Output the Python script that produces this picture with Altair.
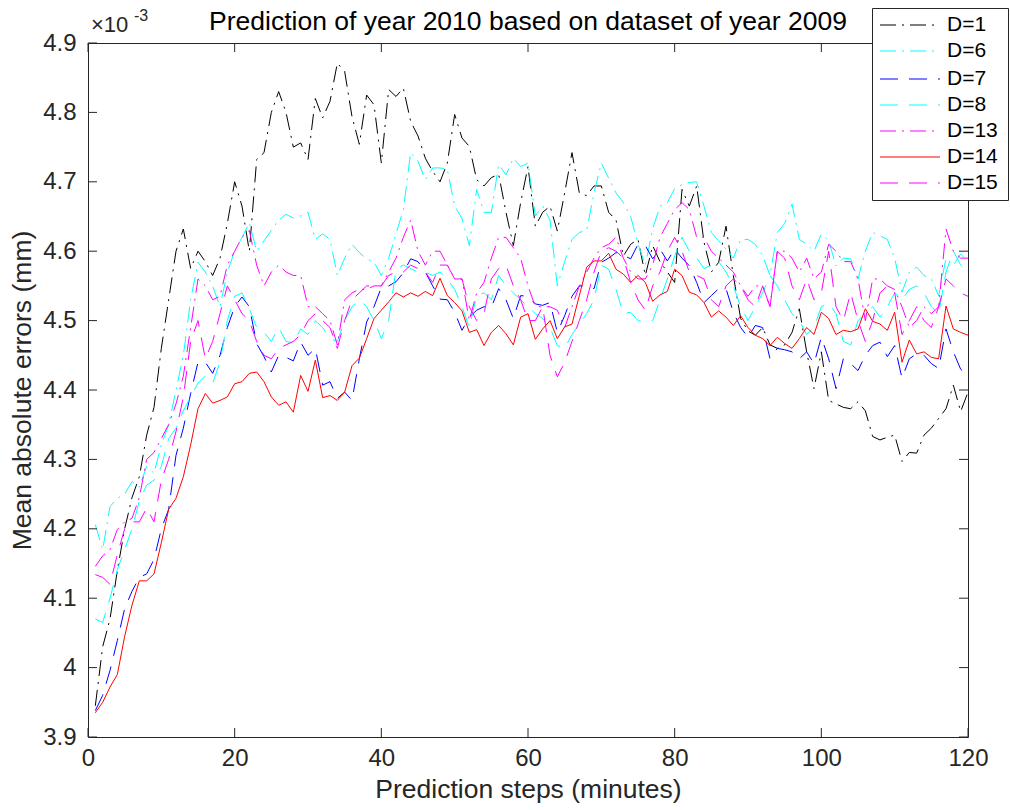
import altair as alt
import pandas as pd

steps = list(range(1, 121))

d1 = [3.945, 4.03, 4.07, 4.14, 4.2, 4.245, 4.275, 4.335, 4.375, 4.46,
      4.53, 4.6, 4.632, 4.575, 4.6, 4.585, 4.565, 4.59, 4.64, 4.70,
      4.665, 4.6, 4.732, 4.742, 4.8, 4.83, 4.8, 4.75, 4.756, 4.732,
      4.82, 4.792, 4.816, 4.871, 4.859, 4.794, 4.754, 4.825, 4.811, 4.727,
      4.833, 4.823, 4.835, 4.787, 4.766, 4.734, 4.715, 4.70, 4.727, 4.797,
      4.763, 4.751, 4.703, 4.694, 4.706, 4.711, 4.656, 4.608, 4.67, 4.722,
      4.636, 4.656, 4.665, 4.629, 4.684, 4.742, 4.684, 4.68, 4.694, 4.694,
      4.656, 4.645, 4.593, 4.61, 4.617, 4.565, 4.608, 4.585, 4.57, 4.555,
      4.689, 4.665, 4.694, 4.613, 4.57, 4.584, 4.636, 4.565, 4.503, 4.485,
      4.479, 4.49, 4.465, 4.46, 4.465, 4.483, 4.517, 4.455, 4.402, 4.455,
      4.385, 4.38, 4.375, 4.373, 4.383, 4.37, 4.333, 4.328, 4.332, 4.335,
      4.297, 4.31, 4.309, 4.335, 4.345, 4.359, 4.373, 4.407, 4.369, 4.397]

d6 = [4.206, 4.17, 4.232, 4.244, 4.25, 4.268, 4.26, 4.29, 4.28, 4.321,
      4.35, 4.40, 4.45, 4.53, 4.584, 4.57, 4.55, 4.52, 4.57, 4.60,
      4.62, 4.641, 4.60, 4.615, 4.63, 4.645, 4.653, 4.648, 4.651, 4.656,
      4.617, 4.625, 4.617, 4.565, 4.59, 4.61, 4.598, 4.589, 4.584, 4.565,
      4.59, 4.625, 4.66, 4.742, 4.73, 4.703, 4.72, 4.72, 4.718, 4.665,
      4.647, 4.608, 4.689, 4.656, 4.656, 4.725, 4.71, 4.734, 4.722, 4.727,
      4.651, 4.665, 4.645, 4.55, 4.585, 4.617, 4.627, 4.63, 4.684, 4.727,
      4.705, 4.684, 4.67, 4.65, 4.61, 4.58, 4.632, 4.665, 4.67, 4.69,
      4.696, 4.699, 4.70, 4.665, 4.627, 4.615, 4.603, 4.59, 4.617, 4.617,
      4.61, 4.594, 4.565, 4.627, 4.64, 4.668, 4.617, 4.61, 4.6, 4.625,
      4.615, 4.579, 4.59, 4.589, 4.56, 4.6, 4.627, 4.622, 4.617, 4.59,
      4.541, 4.57, 4.577, 4.565, 4.56, 4.536, 4.59, 4.58, 4.596, 4.585]

d7 = [3.938, 3.96, 3.996, 4.039, 4.085, 4.11, 4.13, 4.135, 4.156, 4.2,
      4.228, 4.306, 4.345, 4.395, 4.44, 4.44, 4.424, 4.45, 4.49, 4.52,
      4.534, 4.52, 4.467, 4.448, 4.426, 4.45, 4.447, 4.442, 4.469, 4.45,
      4.46, 4.407, 4.412, 4.388, 4.397, 4.385, 4.445, 4.498, 4.52, 4.548,
      4.55, 4.556, 4.569, 4.589, 4.585, 4.57, 4.55, 4.531, 4.53, 4.512,
      4.486, 4.505, 4.515, 4.52, 4.519, 4.546, 4.53, 4.503, 4.536, 4.535,
      4.524, 4.522, 4.526, 4.483, 4.507, 4.535, 4.55, 4.55, 4.546, 4.584,
      4.59, 4.598, 4.594, 4.589, 4.61, 4.608, 4.589, 4.603, 4.586, 4.603,
      4.59, 4.579, 4.555, 4.526, 4.536, 4.546, 4.546, 4.512, 4.49, 4.476,
      4.493, 4.49, 4.445, 4.46, 4.458, 4.455, 4.445, 4.455, 4.438, 4.476,
      4.445, 4.402, 4.445, 4.438, 4.428, 4.45, 4.464, 4.469, 4.448, 4.464,
      4.417, 4.445, 4.452, 4.45, 4.438, 4.431, 4.488, 4.455, 4.43, 4.421]

d8 = [4.07, 4.065, 4.1, 4.141, 4.17, 4.2, 4.24, 4.263, 4.27, 4.29,
      4.33, 4.345, 4.37, 4.39, 4.41, 4.42, 4.41, 4.44, 4.50, 4.535,
      4.54, 4.517, 4.49, 4.483, 4.47, 4.49, 4.47, 4.468, 4.488, 4.48,
      4.5, 4.49, 4.474, 4.47, 4.5, 4.52, 4.53, 4.52, 4.5, 4.474,
      4.5, 4.574, 4.58, 4.575, 4.57, 4.57, 4.565, 4.57, 4.56, 4.545,
      4.52, 4.49, 4.536, 4.54, 4.53, 4.565, 4.55, 4.54, 4.53, 4.52,
      4.51, 4.503, 4.49, 4.464, 4.46, 4.48, 4.495, 4.51, 4.53, 4.58,
      4.574, 4.545, 4.51, 4.512, 4.5, 4.498, 4.5, 4.53, 4.56, 4.593,
      4.62, 4.6, 4.59, 4.575, 4.58, 4.585, 4.57, 4.55, 4.52, 4.5,
      4.52, 4.54, 4.565, 4.55, 4.53, 4.51, 4.5, 4.48, 4.49, 4.52,
      4.525, 4.51, 4.47, 4.465, 4.5, 4.51, 4.52, 4.505, 4.52, 4.54,
      4.53, 4.545, 4.55, 4.54, 4.52, 4.51, 4.57, 4.6, 4.58, 4.57]

d13 = [4.146, 4.161, 4.17, 4.199, 4.21, 4.215, 4.245, 4.30, 4.31, 4.33,
       4.35, 4.38, 4.42, 4.49, 4.56, 4.55, 4.53, 4.535, 4.58, 4.60,
       4.62, 4.63, 4.58, 4.55, 4.57, 4.58, 4.57, 4.565, 4.565, 4.52,
       4.52, 4.51, 4.50, 4.465, 4.53, 4.54, 4.545, 4.545, 4.55, 4.55,
       4.57, 4.59, 4.62, 4.645, 4.60, 4.58, 4.6, 4.6, 4.58, 4.56,
       4.56, 4.5, 4.54, 4.555, 4.59, 4.62, 4.62, 4.605, 4.59, 4.55,
       4.52, 4.52, 4.52, 4.515, 4.49, 4.52, 4.55, 4.57, 4.59, 4.605,
       4.61, 4.62, 4.59, 4.57, 4.56, 4.56, 4.58, 4.62, 4.64, 4.66,
       4.67, 4.66, 4.62, 4.62, 4.6, 4.59, 4.58, 4.57, 4.55, 4.535,
       4.55, 4.55, 4.52, 4.6, 4.6, 4.59, 4.57, 4.59, 4.56, 4.57,
       4.61, 4.6, 4.585, 4.585, 4.56, 4.5, 4.56, 4.56, 4.55, 4.545,
       4.52, 4.49, 4.5, 4.52, 4.51, 4.52, 4.632, 4.6, 4.59, 4.59]

d14 = [3.935, 3.95, 3.972, 3.99, 4.045, 4.09, 4.125, 4.125, 4.135, 4.18,
       4.228, 4.244, 4.275, 4.321, 4.373, 4.395, 4.381, 4.385, 4.39, 4.409,
       4.412, 4.424, 4.426, 4.412, 4.39, 4.378, 4.383, 4.368, 4.421, 4.398,
       4.443, 4.389, 4.392, 4.385, 4.397, 4.435, 4.446, 4.474, 4.503, 4.515,
       4.527, 4.54, 4.534, 4.54, 4.535, 4.542, 4.536, 4.561, 4.536, 4.526,
       4.514, 4.483, 4.487, 4.464, 4.483, 4.493, 4.481, 4.465, 4.505, 4.51,
       4.473, 4.488, 4.5, 4.474, 4.491, 4.495, 4.536, 4.577, 4.586, 4.586,
       4.597, 4.574, 4.567, 4.555, 4.565, 4.555, 4.528, 4.537, 4.542, 4.574,
       4.565, 4.541, 4.537, 4.526, 4.505, 4.514, 4.505, 4.493, 4.507, 4.49,
       4.479, 4.474, 4.464, 4.476, 4.467, 4.46, 4.474, 4.49, 4.48, 4.512,
       4.503, 4.48, 4.486, 4.484, 4.488, 4.517, 4.499, 4.495, 4.486, 4.512,
       4.44, 4.472, 4.452, 4.455, 4.447, 4.445, 4.521, 4.488, 4.483, 4.479]

d15 = [4.134, 4.13, 4.12, 4.163, 4.2, 4.21, 4.21, 4.23, 4.21, 4.27,
       4.30, 4.34, 4.39, 4.47, 4.50, 4.445, 4.47, 4.51, 4.55, 4.53,
       4.51, 4.50, 4.47, 4.45, 4.445, 4.46, 4.465, 4.47, 4.48, 4.50,
       4.51, 4.50, 4.49, 4.46, 4.50, 4.53, 4.54, 4.55, 4.55, 4.55,
       4.565, 4.57, 4.57, 4.58, 4.575, 4.57, 4.555, 4.58, 4.58, 4.56,
       4.56, 4.52, 4.5, 4.51, 4.56, 4.575, 4.58, 4.55, 4.53, 4.5,
       4.5, 4.52, 4.45, 4.419, 4.44, 4.47, 4.5, 4.53, 4.57, 4.6,
       4.605, 4.6, 4.59, 4.555, 4.53, 4.515, 4.55, 4.57, 4.6, 4.62,
       4.6, 4.57, 4.565, 4.56, 4.53, 4.52, 4.55, 4.56, 4.55, 4.53,
       4.52, 4.55, 4.52, 4.6, 4.59, 4.55, 4.53, 4.56, 4.53, 4.54,
       4.6, 4.52, 4.5, 4.54, 4.5, 4.47, 4.5, 4.54, 4.55, 4.54,
       4.48, 4.5, 4.52, 4.5, 4.49, 4.52, 4.56, 4.55, 4.54, 4.535]

names = ["D=1", "D=6", "D=7", "D=8", "D=13", "D=14", "D=15"]
values = [d1, d6, d7, d8, d13, d14, d15]
colors = ["#000000", "#00FFFF", "#0000FF", "#00FFFF", "#FF00FF", "#FF0000", "#FF00FF"]
DASHDOT = [16, 6, 2, 6]
DASH = [18, 11]
dashes = [DASHDOT, DASHDOT, DASH, DASH, DASHDOT, None, DASH]

x_ticks = [0, 20, 40, 60, 80, 100, 120]
y_ticks = [3.9, 4.0, 4.1, 4.2, 4.3, 4.4, 4.5, 4.6, 4.7, 4.8, 4.9]

FONT = "Liberation Sans"
AX = "#262626"
W, H = 880, 694

xscale = alt.Scale(domain=[0, 120], nice=False, zero=False)
yscale = alt.Scale(domain=[3.9, 4.9], nice=False, zero=False)
xaxis = alt.Axis(values=x_ticks, title="Prediction steps (minutes)", grid=False,
                 domain=False, ticks=False, tickSize=0, labelFontSize=24,
                 labelPadding=9, labelColor=AX, labelFlush=False,
                 titleFontSize=26.5, titleFontWeight="normal", titleColor=AX,
                 titlePadding=6, labelFont=FONT, titleFont=FONT)
yaxis = alt.Axis(values=y_ticks, format=".1~f", title="Mean absolute errors (mm)",
                 grid=False, domain=False, ticks=False, tickSize=0,
                 labelFontSize=24, labelPadding=12, labelColor=AX, labelFlush=False,
                 titleFontSize=26.5, titleFontWeight="normal", titleColor=AX,
                 titlePadding=6, labelFont=FONT, titleFont=FONT)

X = alt.X("step:Q", scale=xscale, axis=xaxis)
Y = alt.Y("mae:Q", scale=yscale, axis=yaxis)


def line_kw(col, dsh, width=1):
    kw = dict(color=col, strokeWidth=width)
    if dsh is not None:
        kw["strokeDash"] = dsh
    return kw


layers = []
for name, vals, col, dsh in zip(names, values, colors, dashes):
    df = pd.DataFrame({"step": steps, "mae": vals, "series": name})
    layers.append(alt.Chart(df).mark_line(**line_kw(col, dsh)).encode(x=X, y=Y))

# inward ticks (MATLAB style) on all four sides
xt = pd.DataFrame({"step": x_ticks})
yt = pd.DataFrame({"mae": y_ticks})
layers.append(alt.Chart(xt).mark_rule(color=AX, strokeWidth=1).encode(
    x=X, y=alt.value(H), y2=alt.value(H - 9)))
layers.append(alt.Chart(xt).mark_rule(color=AX, strokeWidth=1).encode(
    x=X, y=alt.value(0), y2=alt.value(9)))
layers.append(alt.Chart(yt).mark_rule(color=AX, strokeWidth=1).encode(
    y=Y, x=alt.value(0), x2=alt.value(9)))
layers.append(alt.Chart(yt).mark_rule(color=AX, strokeWidth=1).encode(
    y=Y, x=alt.value(W - 9), x2=alt.value(W)))

one = pd.DataFrame({"k": [0]})

# title and exponent
layers.append(alt.Chart(one).mark_text(
    text="Prediction of year 2010 based on dataset of year 2009", font=FONT,
    fontSize=26.5, color="#000000", align="center", baseline="alphabetic").encode(
    x=alt.value(W / 2), y=alt.value(-13)))
layers.append(alt.Chart(one).mark_text(
    text="\u00d710", font=FONT, fontSize=22, color=AX, align="left",
    baseline="alphabetic").encode(x=alt.value(3), y=alt.value(-11)))
layers.append(alt.Chart(one).mark_text(
    text="-3", font=FONT, fontSize=16, color=AX, align="left",
    baseline="alphabetic").encode(x=alt.value(46), y=alt.value(-22)))

# legend box
LX0, LX1, LY0, LY1 = 784.5, 920.5, -34.5, 157.5
layers.append(alt.Chart(one).mark_rect(fill="white", stroke=AX, strokeWidth=1).encode(
    x=alt.value(LX0), x2=alt.value(LX1), y=alt.value(LY0), y2=alt.value(LY1)))
row_y = [-18, 8, 36, 62, 88, 114, 140]
for name, col, dsh, ry in zip(names, colors, dashes, row_y):
    leg = pd.DataFrame({"series": [name]})
    layers.append(alt.Chart(leg).mark_rule(**line_kw(col, dsh, 1.2)).encode(
        x=alt.value(792), x2=alt.value(852), y=alt.value(ry)))
    layers.append(alt.Chart(leg).mark_text(
        font=FONT, fontSize=21, color="#000000", align="left",
        baseline="middle").encode(text="series:N", x=alt.value(859), y=alt.value(ry)))

chart = alt.layer(*layers).properties(
    width=W, height=H,
    autosize=alt.AutoSizeParams(type="none"),
    padding={"left": 88, "top": 43, "right": 42, "bottom": 73},
    background="white",
).configure_view(stroke=AX, strokeWidth=1)

chart.save("out.html", embed_options={"renderer": "svg", "actions": False})
